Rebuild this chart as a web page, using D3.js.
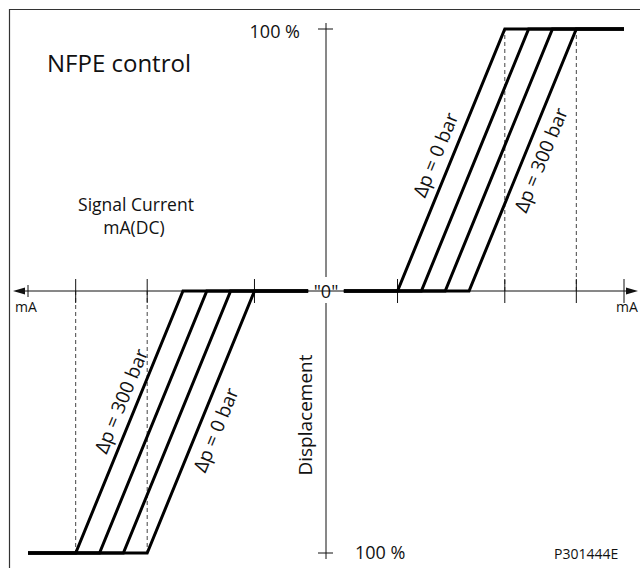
<!DOCTYPE html>
<html>
<head>
<meta charset="utf-8">
<script src="https://cdn.jsdelivr.net/npm/d3@7"></script>
<style>
  body { margin: 0; background: #fff; }
  svg text { font-family: "Open Sans", "Noto Sans", sans-serif; fill: #111; }
</style>
</head>
<body>
<div id="container"></div>
<script>
// signal current (mA, relative units) and displacement (%)
const xTicks = [-100, -84, -60, -24, 24, 60, 84, 100];
const dashedX = [-84, -60, 60, 84];
const pressures = ['0 bar', '100 bar', '200 bar', '300 bar'];
// upper right branch: current where displacement starts / reaches 100 %
const startPos = [24, 32, 40, 48];
const endPos = [60, 68, 76, 84];
// lower left branch (mirrored)
const startNeg = [-24, -32, -40, -48];
const endNeg = [-60, -68, -76, -84];
const deadBand = 6;

const w = 640, h = 568;
const xScale = d3.scaleLinear().domain([-100, 100]).range([28, 624]);
const yScale = d3.scaleLinear().domain([-100, 100]).range([553, 29]);
const x0 = xScale(0), y0 = yScale(0);

const svg = d3.select('#container').append('svg')
  .attr('width', w).attr('height', h);

// frame (left + top only, rest is cut off)
svg.append('path')
  .attr('d', 'M9.5,' + h + 'V9.5H' + w)
  .attr('fill', 'none').attr('stroke', '#333').attr('stroke-width', 1.2);

// dashed guides
dashedX.forEach(function(v){
  const yEnd = v > 0 ? yScale(100) : yScale(-100);
  svg.append('line')
    .attr('x1', xScale(v)).attr('x2', xScale(v))
    .attr('y1', y0).attr('y2', yEnd)
    .attr('stroke', '#444').attr('stroke-width', 1)
    .attr('stroke-dasharray', '4,3');
});

// horizontal axis with arrows
const axisG = svg.append('g').attr('stroke', '#111').attr('stroke-width', 1);
const xl = xScale(-100) - 15, xr = xScale(100) + 14;
axisG.append('line').attr('x1', xl + 6).attr('x2', xr - 6).attr('y1', y0).attr('y2', y0);
svg.append('path')
  .attr('d', 'M' + xl + ',' + y0 + 'l12,-3.5v7z').attr('fill', '#111');
svg.append('path')
  .attr('d', 'M' + xr + ',' + y0 + 'l-12,-3.5v7z').attr('fill', '#111');
xTicks.forEach(function(v){
  const len = (v === -100) ? 6 : 12;
  axisG.append('line')
    .attr('x1', xScale(v)).attr('x2', xScale(v))
    .attr('y1', y0 - len).attr('y2', y0 + len);
});

// vertical axis with gap for "0"
axisG.append('line').attr('x1', x0).attr('x2', x0)
  .attr('y1', yScale(100) - 6).attr('y2', y0 - 14);
axisG.append('line').attr('x1', x0).attr('x2', x0)
  .attr('y1', y0 + 12).attr('y2', yScale(-100) + 6);
[100, -100].forEach(function(v){
  axisG.append('line').attr('x1', x0 - 8).attr('x2', x0 + 7)
    .attr('y1', yScale(v)).attr('y2', yScale(v));
});

// characteristic curves
const line = d3.line().x(d => xScale(d[0])).y(d => yScale(d[1]));
const curves = [];
startPos.forEach(function(s, i){
  curves.push([[deadBand, 0], [s, 0], [endPos[i], 100], [100, 100]]);
});
startNeg.forEach(function(s, i){
  curves.push([[-deadBand, 0], [s, 0], [endNeg[i], -100], [-100, -100]]);
});
svg.selectAll('path.curve').data(curves).enter().append('path')
  .attr('class', 'curve')
  .attr('d', line)
  .attr('fill', 'none').attr('stroke', '#000').attr('stroke-width', 3)
  .attr('stroke-linejoin', 'miter');

// labels along slanted lines
function slopeLabel(s, e, frac, dx, txt){
  const px = xScale(s + (e - s) * frac) + dx;
  const py = yScale((e > 0 ? 100 : -100) * frac);
  const ang = Math.atan2(yScale(e > 0 ? 100 : -100) - y0, xScale(e) - xScale(s)) * 180 / Math.PI;
  const a = e > 0 ? ang : ang + 180;
  svg.append('text')
    .attr('transform', 'translate(' + px + ',' + py + ') rotate(' + a + ')')
    .attr('text-anchor', 'middle').attr('dominant-baseline', 'central')
    .attr('font-size', 19).text(txt);
}
slopeLabel(startPos[0], endPos[0], 0.52, -18, '\u0394p = ' + pressures[0]);
slopeLabel(startPos[3], endPos[3], 0.5, 18, '\u0394p = ' + pressures[3]);
slopeLabel(startNeg[3], endNeg[3], 0.42, -17, '\u0394p = ' + pressures[3]);
slopeLabel(startNeg[0], endNeg[0], 0.53, 18, '\u0394p = ' + pressures[0]);

// texts
svg.append('text').attr('x', 47).attr('y', 72).attr('font-size', 24).text('NFPE control');
svg.append('text').attr('x', 136).attr('y', 211).attr('font-size', 17.5)
  .attr('text-anchor', 'middle').text('Signal Current');
svg.append('text').attr('x', 134).attr('y', 234).attr('font-size', 17.5)
  .attr('text-anchor', 'middle').text('mA(DC)');
svg.append('text').attr('x', x0 - 26).attr('y', yScale(100) + 9).attr('font-size', 18)
  .attr('text-anchor', 'end').text('100 %');
svg.append('text').attr('x', x0 + 29).attr('y', yScale(-100) + 6).attr('font-size', 18)
  .text('100 %');
svg.append('text').attr('x', x0).attr('y', y0 + 7).attr('font-size', 18)
  .attr('text-anchor', 'middle').text('"0"');
svg.append('text').attr('x', 15).attr('y', y0 + 21).attr('font-size', 14).text('mA');
svg.append('text').attr('x', 616).attr('y', y0 + 21).attr('font-size', 14).text('mA');
svg.append('text')
  .attr('transform', 'translate(' + (x0 - 14) + ',' + 415 + ') rotate(-90)')
  .attr('text-anchor', 'middle').attr('font-size', 19).text('Displacement');
svg.append('text').attr('x', 554).attr('y', 559).attr('font-size', 14).text('P301444E');
</script>
</body>
</html>
